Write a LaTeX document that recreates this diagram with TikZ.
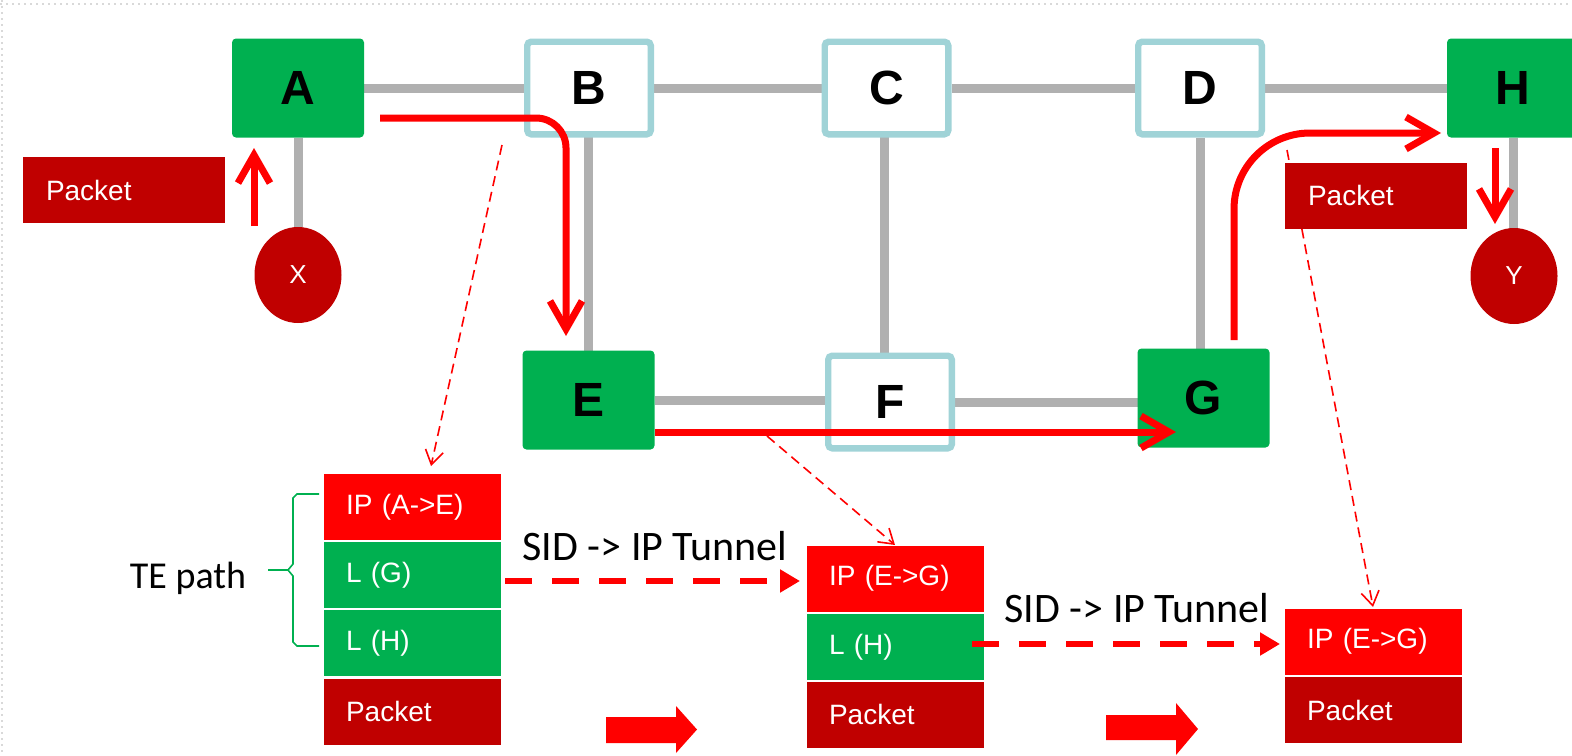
\documentclass[tikz,border=0pt]{standalone}
\usepackage{fontspec}
\setmainfont{Liberation Sans}
\newfontfamily\calibri{Carlito}
\usetikzlibrary{arrows.meta,shapes.geometric,backgrounds}

\definecolor{lsrgreen}{HTML}{00B050}
\definecolor{hdrred}{HTML}{FF0000}
\definecolor{pktred}{HTML}{C00000}
\definecolor{linkgray}{HTML}{B0B0B0}
\definecolor{plainblue}{HTML}{A0D3D7}

\tikzset{
  lsr/.style={fill=lsrgreen, rounded corners=2pt, minimum width=66pt, minimum height=49.5pt, font=\fontsize{24}{26}\selectfont\bfseries},
  plain/.style={draw=plainblue, line width=3.2pt, fill=white, rounded corners=2pt, minimum width=61.8pt, minimum height=46.3pt, font=\fontsize{24}{26}\selectfont\bfseries},
  host/.style={ellipse, fill=pktred, text=white, inner sep=0pt, minimum width=43.5pt, minimum height=48pt, font=\fontsize{13}{14}\selectfont},
  hdr/.style={text=white, inner xsep=11pt, inner ysep=0pt, text width=66.5pt, align=left, minimum height=33pt, font=\fontsize{14}{16}\selectfont},
  iprow/.style={hdr, fill=hdrred},
  segrow/.style={hdr, fill=lsrgreen},
  pktrow/.style={hdr, fill=pktred},
  link/.style={linkgray, line width=4.5pt},
  flow/.style={hdrred, line width=3.5pt, -{Straight Barb[length=14pt,width=16pt]}},
  peek/.style={hdrred, line width=0.8pt, dash pattern=on 5pt off 3pt, -{Straight Barb[length=7pt,width=9pt]}},
  tunnel/.style={hdrred, line width=3pt, dash pattern=on 13.5pt off 10pt, -{Triangle[length=10pt,width=11pt]}},
}

\begin{document}
\begin{tikzpicture}[x=0.5pt, y=-0.5pt]

  \useasboundingbox (0,0) rectangle (1572,755);
  \draw[gray!30, dotted, line width=1pt] (0,4) -- (1572,4) (2,0) -- (2,755);

  % routers
  \node[lsr] (A) at (298,88) {A};
  \node[plain] (B) at (589,88) {B};
  \node[plain] (C) at (886.5,88) {C};
  \node[plain] (D) at (1200,88) {D};
  \node[lsr] (H) at (1513,88) {H};
  \node[lsr] (E) at (588.5,400) {E};
  \node[plain] (F) at (890,402) {F};
  \node[lsr] (G) at (1203.5,398) {G};

  % hosts
  \node[host] (X) at (298,275) {X};
  \node[host] (Y) at (1514,276) {Y};

  \node[pktrow, text width=78pt, inner xsep=11.5pt] (pktX) at (124,190) {Packet};
  \node[pktrow, text width=68pt, inner xsep=11.5pt] (pktY) at (1376,195.5) {Packet};

  % label stacks
  \node[iprow] (sAip) at (412.5,507) {IP (A->E)};
  \node[segrow] (sAg) at (412.5,575) {L (G)};
  \node[segrow] (sAh) at (412.5,643) {L (H)};
  \node[pktrow] (sApkt) at (412.5,711.5) {Packet};

  \node[iprow] (sBip) at (895.5,578.5) {IP (E->G)};
  \node[segrow] (sBh) at (895.5,647) {L (H)};
  \node[pktrow] (sBpkt) at (895.5,714.5) {Packet};

  \node[iprow] (sCip) at (1373.5,641.5) {IP (E->G)};
  \node[pktrow] (sCpkt) at (1373.5,710) {Packet};

  \begin{pgfonlayer}{background}
    \draw[link] (A) -- (B);
    \draw[link] (B) -- (C);
    \draw[link] (C) -- (D);
    \draw[link] (D) -- (H);
    \draw[link] (E) -- (E -| F);
    \draw[link] (F) -- (F -| G);
    \draw[link] (A) -- (X);
    \draw[link] ([xshift=-0.5pt]B.center) -- ([xshift=-0.5pt]B |- E);
    \draw[link] ([xshift=-1.25pt]C.center) -- ([xshift=-1.25pt]C |- F);
    \draw[link] (D) -- (D |- G);
    \draw[link] (H) -- (H |- Y);
    \draw[peek] (1287,150) -- (1373,607);
  \end{pgfonlayer}

  % forwarding path
  \coordinate (aeStart) at (380,118);
  \coordinate (aeEnd) at (566,336);
  \coordinate (egStart) at (655,432);
  \coordinate (egEnd) at (1176,432);
  \coordinate (ghStart) at (1234,340);
  \coordinate (ghEnd) at (1441,133);

  \draw[flow] (254,226) -- (254,148);
  \draw[flow, rounded corners=15pt] (aeStart) -| (aeEnd);
  \draw[flow] (egStart) -- (egEnd);
  \draw[flow, rounded corners=38pt] (ghStart) |- (ghEnd);
  \draw[flow] (1495,148) -- (1495,224);

  \draw[peek] (502,145) -- (431,466);
  \draw[peek] (767,436) -- (895,545);

  % tunnels
  \coordinate (tunAstart) at (505,581);
  \coordinate (tunAend) at (800,581);
  \coordinate (tunBstart) at (972,644);
  \coordinate (tunBend) at (1280,644);
  \draw[tunnel] (tunAstart) -- (tunAend);
  \draw[tunnel] (tunBstart) -- (tunBend);
  \node[anchor=base, font=\calibri\fontsize{21}{24}\selectfont] (tunAlabel) at (655,560) {SID -> IP Tunnel};
  \node[anchor=base, font=\calibri\fontsize{21}{24}\selectfont] (tunBlabel) at (1137,622) {SID -> IP Tunnel};

  % TE path brace
  \draw[lsrgreen, line width=0.8pt]
    (319,494) -- (297,494) -- (293,498) -- (293,564) -- (288,570) -- (268,570)
    (288,570) -- (293,576) -- (293,642) -- (297,646) -- (319,646);
  \node[anchor=base, font=\calibri\fontsize{19}{22}\selectfont] (tepath) at (188,588) {TE path};

  % step arrows
  \fill[hdrred] (606,717) -- (676,717) -- (676,706) -- (697,729.5) -- (676,753) -- (676,743) -- (606,743) -- cycle;
  \fill[hdrred] (1106,715) -- (1176,715) -- (1176,703) -- (1198,729) -- (1176,755) -- (1176,740) -- (1106,740) -- cycle;

\end{tikzpicture}
\end{document}
